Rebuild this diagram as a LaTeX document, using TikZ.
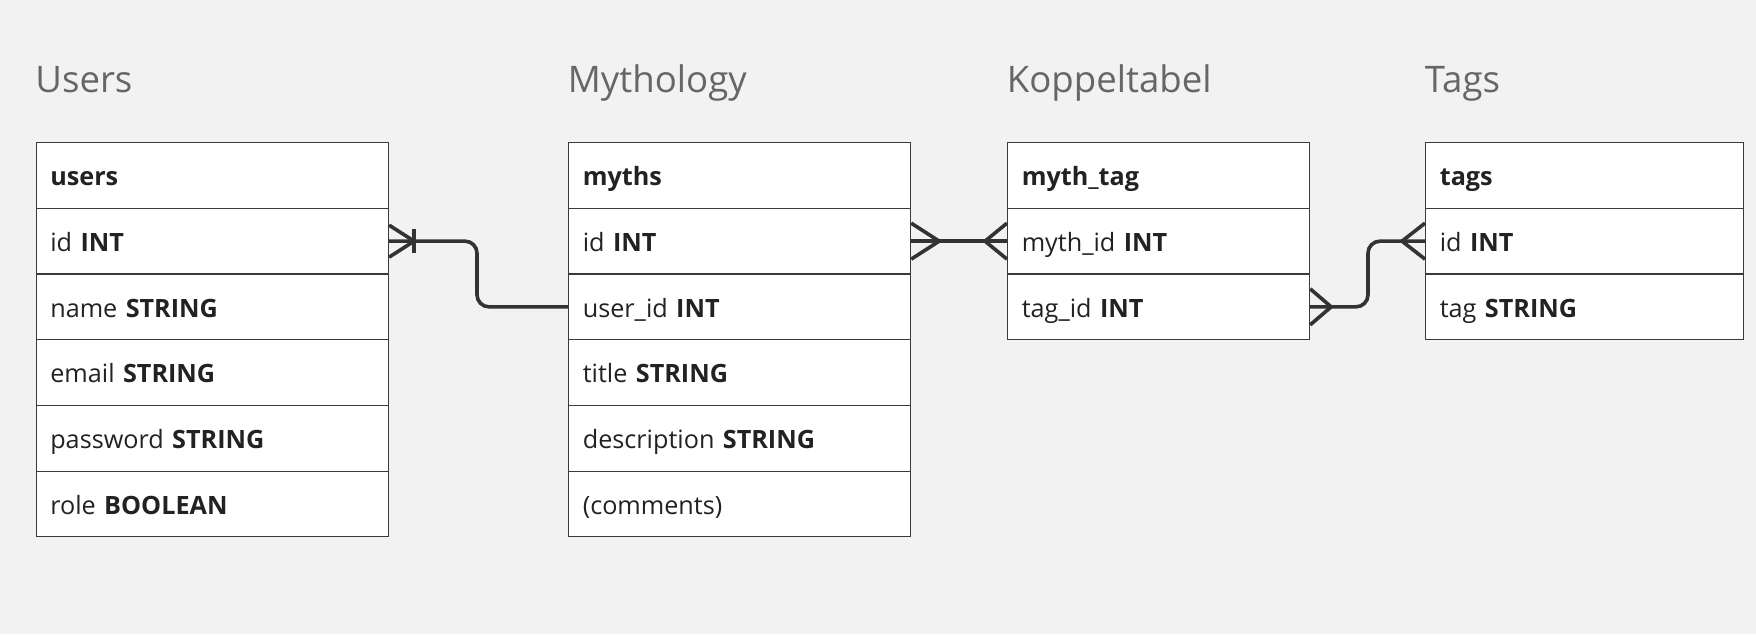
\documentclass[tikz,border=0pt]{standalone}
\usepackage{fontspec}
\setmainfont{Open Sans}
\usetikzlibrary{calc}
\definecolor{bg}{HTML}{F2F2F2}
\definecolor{tabline}{HTML}{3A3A3A}
\definecolor{conncol}{HTML}{333333}
\definecolor{txt}{HTML}{222222}
\definecolor{ttl}{HTML}{666666}
\begin{document}
\begin{tikzpicture}[x=0.5pt,y=-0.5pt,
  row/.style={draw=tabline, line width=0.6pt, fill=white, rectangle, anchor=north west,
    minimum height=32.85pt, inner ysep=0pt, inner xsep=7.1pt, align=left,
    text width=#1, text height=11.5pt, text depth=1.1pt,
    font=\fontsize{12.6}{14}\selectfont, text=txt},
  title/.style={anchor=base west, inner sep=0pt, text=ttl, font=\fontsize{18.3}{21}\selectfont},
  conn/.style={draw=conncol, line width=1.8pt},
]
\useasboundingbox (0,0) rectangle (1756,634);
\fill[bg] (0,0) rectangle (1756,634);

% titles
\node[title] (tu) at (35,92) {Users};
\node[title] (tm) at (567.5,92) {Mythology};
\node[title] (tk) at (1006.5,92) {Koppeltabel};
\node[title] (tt) at (1424.5,92) {Tags};

% Users table (width 352.5px)
\node[row=162pt] (u1) at (35.5,142) {\textbf{users}};
\node[row=162pt] (u2) at (35.5,207.7) {id \textbf{INT}};
\node[row=162pt] (u3) at (35.5,273.4) {name \textbf{STRING}};
\node[row=162pt] (u4) at (35.5,339.1) {email \textbf{STRING}};
\node[row=162pt] (u5) at (35.5,404.8) {password \textbf{STRING}};
\node[row=162pt] (u6) at (35.5,470.5) {role \textbf{BOOLEAN}};

% Mythology table (width 342px)
\node[row=156.8pt] (m1) at (568,142) {\textbf{myths}};
\node[row=156.8pt] (m2) at (568,207.7) {id \textbf{INT}};
\node[row=156.8pt] (m3) at (568,273.4) {user\_id \textbf{INT}};
\node[row=156.8pt] (m4) at (568,339.1) {title \textbf{STRING}};
\node[row=156.8pt] (m5) at (568,404.8) {description \textbf{STRING}};
\node[row=156.8pt] (m6) at (568,470.5) {(comments)};

% Koppeltabel (width 302px)
\node[row=136.8pt] (k1) at (1007,142) {\textbf{myth\_tag}};
\node[row=136.8pt] (k2) at (1007,207.7) {myth\_id \textbf{INT}};
\node[row=136.8pt] (k3) at (1007,273.4) {tag\_id \textbf{INT}};

% Tags (width 318px)
\node[row=144.8pt] (t1) at (1425,142) {\textbf{tags}};
\node[row=144.8pt] (t2) at (1425,207.7) {id \textbf{INT}};
\node[row=144.8pt] (t3) at (1425,273.4) {tag \textbf{STRING}};

% bend coordinates
\coordinate (j1) at (477,0);
\coordinate (j3) at (1368,0);

% users.id  -- myths.user_id
\draw[conn, rounded corners=6pt] (u2.east) -- (j1 |- u2.east) -- (j1 |- m3.west) -- (m3.west);
\draw[conn] ($(u2.east)+(0,-16)$) -- ($(u2.east)+(25,0)$) -- ($(u2.east)+(0,16)$);
\draw[conn] ($(u2.east)+(25,-12)$) -- ($(u2.east)+(25,12)$);

% myths.id -- myth_tag.myth_id
\draw[conn] (m2.east) -- (k2.west);
\draw[conn] ($(m2.east)+(0,-18)$) -- ($(m2.east)+(28,0)$) -- ($(m2.east)+(0,18)$);
\draw[conn] ($(k2.west)+(0,-18)$) -- ($(k2.west)+(-22,0)$) -- ($(k2.west)+(0,18)$);

% myth_tag.tag_id -- tags.id
\draw[conn, rounded corners=6pt] (k3.east) -- (j3 |- k3.east) -- (j3 |- t2.west) -- (t2.west);
\draw[conn] ($(k3.east)+(0,-18)$) -- ($(k3.east)+(21,0)$) -- ($(k3.east)+(0,18)$);
\draw[conn] ($(t2.west)+(0,-18)$) -- ($(t2.west)+(-23,0)$) -- ($(t2.west)+(0,18)$);
\end{tikzpicture}
\end{document}
